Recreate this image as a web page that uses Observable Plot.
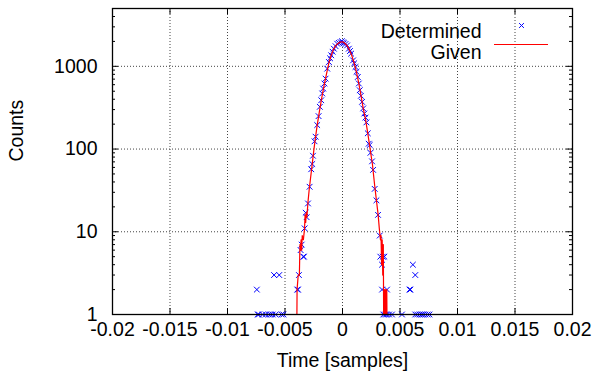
<!DOCTYPE html>
<html><head><meta charset="utf-8">
<script src="https://cdn.jsdelivr.net/npm/d3@7"></script>
<script src="https://cdn.jsdelivr.net/npm/@observablehq/plot@0.6"></script>
<style>body{margin:0;background:#fff}</style>
</head><body><div id="chart"></div>
<script>
// Determined (blue crosses)
const detX = [-0.00745,-0.00737,-0.00728,-0.00693,-0.00667,-0.00641,-0.00624,-0.00607,-0.00595,-0.00581,-0.00550,-0.00529,-0.00514,
 -0.00393,-0.00387,-0.00379,-0.00364,-0.00355,-0.00341,-0.00335,-0.00329,-0.00320,-0.00312,-0.00300,-0.00286,-0.00272,-0.00263,-0.00257,
 -0.00243,-0.00234,-0.00220,-0.00208,-0.00197,-0.00185,-0.00176,-0.00168,-0.00157,-0.00147,-0.00133,-0.00118,-0.00108,-0.00098,-0.00086,
 -0.00075,-0.00060,-0.00046,-0.00032,-0.00017,-0.00005,0.00005,0.00012,0.00026,0.00040,0.00055,0.00065,0.00075,0.00092,0.00102,0.00113,
 0.00122,0.00133,0.00142,0.00150,0.00160,0.00170,0.00180,0.00190,0.00200,0.00208,0.00220,0.00228,0.00237,0.00243,0.00257,0.00266,0.00280,
 0.00295,0.00309,0.00324,0.00329,0.00344,0.00350,0.00364,0.00344,0.00387,0.00355,0.00370,0.00385,0.00405,0.00430,0.00517,0.00583,0.00590,
 0.00612,0.00633,0.00633,0.00650,0.00670,0.00685,0.00700,0.00720,0.00740,0.00756];
const detY = [2,1,1,1,1,1,1,1,3,1,3,1,1,
 2,2,3,6,7,5,5,11,17,15,22,35,57,66,83,
 124,141,195,250,324,389,470,538,620,710,937,1128,1250,1360,1500,
 1633,1750,1875,1920,1963,2010,1950,1900,1860,1790,1633,1530,1423,1180,1090,982,
 860,743,620,514,440,372,310,269,240,210,155,116,112,90,71,56,33,
 24,16,9,5,4,5,5,2,2,1,1,1,1,1,1,2,2,
 4,3,1,1,1,1,1,1,1,1];
// Given (red line); 0 = empty bin
const givX = [-0.00405,-0.00400,-0.00395,-0.00385,-0.00375,-0.00370,-0.00365,-0.00360,-0.00355,-0.00350,-0.00340,-0.00330,-0.00325,
 -0.00320,-0.00315,-0.00310,-0.00300,-0.00290,-0.00280,-0.00270,-0.00260,-0.00250,-0.00240,-0.00230,-0.00220,-0.00200,-0.00180,-0.00160,
 -0.00140,-0.00120,-0.00100,-0.00080,-0.00060,-0.00040,-0.00020,0.00000,0.00020,0.00040,0.00060,0.00080,0.00100,0.00120,0.00140,0.00160,
 0.00180,0.00200,0.00220,0.00240,0.00260,0.00280,0.00300,0.00310,0.00320,0.00330,0.00335,0.00340,0.00345,0.00350,0.00355,0.00360,0.00365,
 0.00370,0.00375,0.00380,0.00385,0.00390];
const givY = [0,0,2,3,3,7,6,8,6,9,8,11,16,
 13,17,15,23,32,42,55,72,95,122,155,195,290,420,590,
 800,1080,1340,1580,1770,1890,1960,1980,1900,1780,1590,1360,1110,870,640,450,
 310,230,155,100,66,36,21,16,11,8,9,4,8,3,7,0,2,
 0,2,0,2,0];
const xTicks = [-0.02,-0.015,-0.01,-0.005,0,0.005,0.01,0.015,0.02];
const xTickLabels = ["-0.02","-0.015","-0.01","-0.005","0","0.005","0.01","0.015","0.02"];
const yTicks = [1,10,100,1000];
const yTickLabels = ["1","10","100","1000"];
const yMinor = [2,3,4,5,6,7,8,9,20,30,40,50,60,70,80,90,200,300,400,500,600,700,800,900,2000,3000,4000,5000];

const W = 596, H = 376, mT = 8, mR = 24, mB = 62, mL = 112;
const pw = W - mL - mR, ph = H - mT - mB;
const det = detX.map((x, i) => ({x, y: detY[i]}));
const giv = givX.map((x, i) => ({x, y: givY[i]}));
const font = "'Liberation Sans', Arial, Helvetica, sans-serif";
const fs = 19.5;

const chart = Plot.plot({
  width: W, height: H,
  marginTop: mT, marginRight: mR, marginBottom: mB, marginLeft: mL,
  style: {fontFamily: font, fontSize: fs + "px", background: "#fff", color: "#000"},
  x: {domain: [-0.02, 0.02], axis: null},
  y: {type: "log", domain: [1, 5000], axis: null},
  marks: [
    Plot.ruleX(xTicks, {x: d => d, stroke: "#444", strokeDasharray: "1,2", strokeWidth: 1}),
    Plot.ruleY(yTicks, {y: d => d, stroke: "#444", strokeDasharray: "1,2", strokeWidth: 1}),
    Plot.tickX(xTicks, {x: d => d, insetTop: ph - 6, stroke: "#000"}),
    Plot.tickX(xTicks, {x: d => d, insetBottom: ph - 6, stroke: "#000"}),
    Plot.tickY(yTicks, {y: d => d, insetRight: pw - 6, stroke: "#000"}),
    Plot.tickY(yTicks, {y: d => d, insetLeft: pw - 6, stroke: "#000"}),
    Plot.tickY(yMinor, {y: d => d, insetRight: pw - 3, stroke: "#000"}),
    Plot.tickY(yMinor, {y: d => d, insetLeft: pw - 3, stroke: "#000"}),
    Plot.text(xTicks, {x: d => d, text: d => xTickLabels[xTicks.indexOf(d)], frameAnchor: "bottom", dy: 21, fontSize: fs}),
    Plot.text(yTicks, {y: d => d, text: d => yTickLabels[yTicks.indexOf(d)], frameAnchor: "left", dx: -15, textAnchor: "end", fontSize: fs}),
    Plot.dot(det, {x: "x", y: "y", symbol: "times", r: 2.7, stroke: "#0000ff", strokeWidth: 1}),
    Plot.line(giv, {x: "x", y: d => Math.max(d.y, 0.2), stroke: "#ff0000", strokeWidth: 1.2, clip: true}),
    Plot.frame({stroke: "#000", strokeWidth: 1.3}),
    Plot.text(["Counts"], {text: d => d, frameAnchor: "left", dx: -96, rotate: -90, fontSize: fs}),
    Plot.text(["Time [samples]"], {text: d => d, frameAnchor: "bottom", dy: 52, fontSize: fs}),
    Plot.text(["Determined"], {text: d => d, frameAnchor: "top-right", dx: -91, dy: 16, textAnchor: "end", fontSize: fs}),
    Plot.text(["Given"], {text: d => d, frameAnchor: "top-right", dx: -91, dy: 36.5, textAnchor: "end", fontSize: fs}),
    Plot.dot(["Determined"], {frameAnchor: "top-right", dx: -51, dy: 17, symbol: "times", r: 2.3, stroke: "#0000ff", strokeWidth: 1})
  ]
});
// legend line sample for "Given"
d3.select(chart).append("line")
  .attr("x1", W - mR - 78).attr("x2", W - mR - 24)
  .attr("y1", mT + 36.5).attr("y2", mT + 36.5)
  .attr("stroke", "#ff0000").attr("stroke-width", 1.2);
document.getElementById("chart").appendChild(chart);
</script>
</body></html>
